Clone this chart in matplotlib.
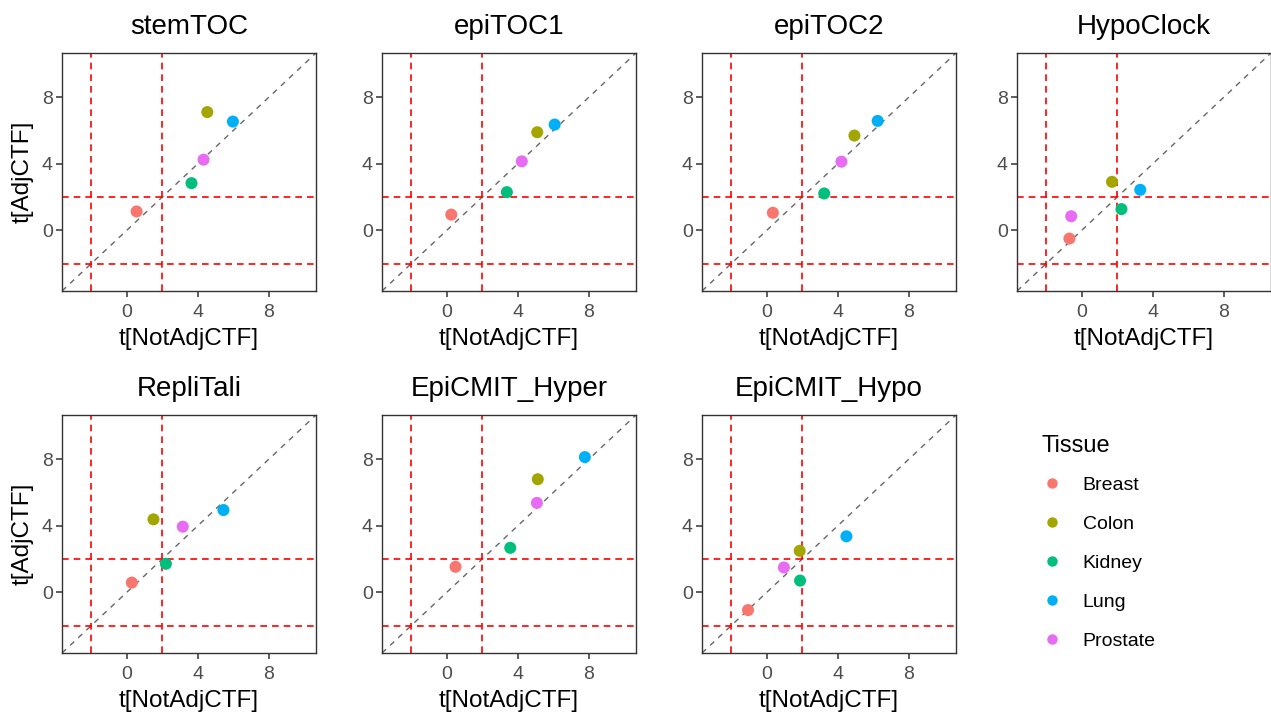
import numpy as np
import matplotlib
matplotlib.use('Agg')
from matplotlib import pyplot as plt

plt.rcParams['font.family'] = ['Liberation Sans', 'DejaVu Sans']

# t-statistics, order: Breast, Colon, Kidney, Lung, Prostate
tissues = ['Breast', 'Colon', 'Kidney', 'Lung', 'Prostate']
tissue_colors = ['#F8766D', '#A3A500', '#00BF7D', '#00B0F6', '#E76BF3']

clocks = ['stemTOC', 'epiTOC1', 'epiTOC2', 'HypoClock',
          'RepliTali', 'EpiCMIT_Hyper', 'EpiCMIT_Hypo']

stemTOC_x = [0.55, 4.53, 3.64, 5.97, 4.32]
stemTOC_y = [1.13, 7.10, 2.83, 6.53, 4.24]
epiTOC1_x = [0.25, 5.09, 3.38, 6.07, 4.22]
epiTOC1_y = [0.94, 5.89, 2.29, 6.35, 4.14]
epiTOC2_x = [0.34, 4.93, 3.23, 6.24, 4.20]
epiTOC2_y = [1.05, 5.69, 2.21, 6.57, 4.12]
hypoclock_x = [-0.70, 1.70, 2.23, 3.29, -0.60]
hypoclock_y = [-0.50, 2.91, 1.27, 2.43, 0.84]
replitali_x = [0.28, 1.50, 2.20, 5.44, 3.15]
replitali_y = [0.58, 4.38, 1.71, 4.94, 3.94]
epicmit_hyper_x = [0.49, 5.12, 3.57, 7.77, 5.07]
epicmit_hyper_y = [1.53, 6.79, 2.67, 8.12, 5.37]
epicmit_hypo_x = [-1.06, 1.85, 1.87, 4.48, 0.96]
epicmit_hypo_y = [-1.07, 2.49, 0.70, 3.36, 1.49]

not_adj = [stemTOC_x, epiTOC1_x, epiTOC2_x, hypoclock_x,
           replitali_x, epicmit_hyper_x, epicmit_hypo_x]
adj = [stemTOC_y, epiTOC1_y, epiTOC2_y, hypoclock_y,
       replitali_y, epicmit_hyper_y, epicmit_hypo_y]

ticks = [0, 4, 8]
lims = (-3.65, 10.65)

W, H = 1271, 714
fig = plt.figure(figsize=(W / 100, H / 100), dpi=100)

col_left = [62, 382, 702, 1017]
row_top = [53, 415]
pw, ph = 254, 238


def panel(i):
    r, c = divmod(i, 4)
    left = col_left[c] / W
    bottom = 1 - (row_top[r] + ph) / H
    ax = fig.add_axes([left, bottom, pw / W, ph / H])

    ax.plot(lims, lims, color='#666666', ls=(0, (4, 4)), lw=1.0, zorder=1)
    for v in (-2, 2):
        ax.axvline(v, color='#FF0000', ls=(0, (4, 3)), lw=1.2, zorder=2)
        ax.axhline(v, color='#FF0000', ls=(0, (4, 3)), lw=1.2, zorder=2)

    for x, y, col in zip(not_adj[i], adj[i], tissue_colors):
        ax.scatter(x, y, s=75, color=col, edgecolors='none', zorder=3)

    ax.set_xlim(lims)
    ax.set_ylim(lims)
    ax.set_xticks(ticks)
    ax.set_yticks(ticks)
    ax.tick_params(direction='out', length=4.5, width=1.1, color='#333333',
                   labelcolor='#4D4D4D', labelsize=14)
    ax.tick_params(axis='x', pad=5)
    ax.tick_params(axis='y', pad=2)
    for sp in ax.spines.values():
        sp.set_color('#333333')
        sp.set_linewidth(1.0)
    ax.set_title(clocks[i], fontsize=20, pad=14)
    ax.set_xlabel('t[NotAdjCTF]', fontsize=17.5, labelpad=5)
    if c == 0:
        ax.set_ylabel('t[AdjCTF]', fontsize=17.5, labelpad=6)
    return ax


for i in range(len(clocks)):
    panel(i)

# legend in the empty eighth slot
handles = [plt.Line2D([], [], marker='o', ls='none', markersize=7.5,
                      markerfacecolor=c, markeredgecolor='none')
           for c in tissue_colors]
leg = fig.legend(handles, tissues, title='Tissue', loc='upper left',
                 bbox_to_anchor=(1042 / W, 1 - 435 / H), frameon=False,
                 fontsize=14, title_fontsize=17, labelspacing=1.1,
                 handlelength=1.0, handletextpad=1.1, borderpad=0,
                 borderaxespad=0)
leg._legend_box.align = 'left'
leg._legend_box.sep = 14

fig.savefig('out.png', dpi=100)
